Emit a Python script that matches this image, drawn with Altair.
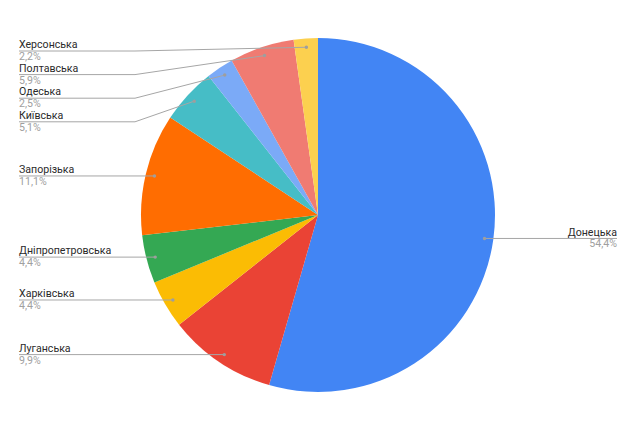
import altair as alt
import numpy as np
import pandas as pd

# Share of each oblast (percent), listed clockwise from 12 o'clock
regions = ["Донецька", "Луганська", "Харківська", "Дніпропетровська",
           "Запорізька", "Київська", "Одеська", "Полтавська", "Херсонська"]
shares = [54.4, 9.9, 4.4, 4.4, 11.1, 5.1, 2.5, 5.9, 2.2]
colors = ["#4285F4", "#EA4335", "#FBBC04", "#34A853", "#FF6D01",
          "#46BDC6", "#7BAAF7", "#F07B72", "#FCD04F"]

# Canvas and pie geometry (pixels)
W, H = 630, 426
CX, CY, R = 318, 215, 177
DOT_R = 0.95 * R
LEFT_X, RIGHT_X = 19, 617
BEND_L, BEND_R = 135, 500
LABEL_GAP, LABEL_TOP = 23.6, 51
FONT = "Roboto"
FONT_SIZE = 10.6

vals = np.array(shares, dtype=float)
cum = np.cumsum(vals)
mid = (cum - vals / 2) / vals.sum() * 2 * np.pi
dot_x = CX + DOT_R * np.sin(mid)
dot_y = CY - DOT_R * np.cos(mid)
side = np.where(np.sin(mid) < 0, "left", "right")

# Label rows: start at the anchor's height, pushed down so they never overlap
label_y = np.zeros(len(regions))
for s in ("left", "right"):
    idx = [i for i in np.argsort(dot_y) if side[i] == s]
    prev = -1e9
    for i in idx:
        y = max(dot_y[i], prev + LABEL_GAP, LABEL_TOP)
        label_y[i] = y
        prev = y

pie_df = pd.DataFrame({"region": regions, "share": shares, "idx": range(len(regions))})

line_rows, label_rows = [], []
for i, name in enumerate(regions):
    if side[i] == "left":
        pts = [(LEFT_X, label_y[i]), (BEND_L, label_y[i]), (dot_x[i], dot_y[i])]
        tx = LEFT_X
    else:
        pts = [(RIGHT_X, label_y[i]), (BEND_R, label_y[i]), (dot_x[i], dot_y[i])]
        tx = RIGHT_X
    for k, (px, py) in enumerate(pts):
        line_rows.append({"region": name, "seq": k, "x": px, "y": py})
    label_rows.append({
        "region": name, "side": side[i], "x": tx, "y": label_y[i],
        "pct": f"{shares[i]:.1f}".replace(".", ",") + "%",
    })

line_df = pd.DataFrame(line_rows)
label_df = pd.DataFrame(label_rows)
dot_df = pd.DataFrame({"region": regions, "x": dot_x, "y": dot_y})

xs = alt.Scale(domain=[0, W], range=[0, W], nice=False, zero=False)
ys = alt.Scale(domain=[0, H], range=[0, H], nice=False, zero=False)
X = lambda f: alt.X(f, type="quantitative", scale=xs, axis=None)
Y = lambda f: alt.Y(f, type="quantitative", scale=ys, axis=None)

pie = alt.Chart(pie_df).mark_arc(outerRadius=R).encode(
    theta=alt.Theta("share:Q", stack=True),
    order=alt.Order("idx:Q"),
    color=alt.Color("region:N", scale=alt.Scale(domain=regions, range=colors), legend=None),
    x=alt.value(CX),
    y=alt.value(CY),
)

leaders = alt.Chart(line_df).mark_line(color="#a6a6a6", strokeWidth=1).encode(
    x=X("x"), y=Y("y"), detail="region:N", order="seq:Q"
)

dots = alt.Chart(dot_df).mark_circle(color="#9e9e9e", size=12, opacity=1).encode(
    x=X("x"), y=Y("y")
)

layers = [pie, leaders, dots]
for s, align in (("left", "left"), ("right", "right")):
    base = alt.Chart(label_df).transform_filter(alt.datum.side == s)
    layers.append(base.mark_text(align=align, baseline="alphabetic", dy=-2.8,
                                 font=FONT, fontSize=FONT_SIZE, color="#2a2a2a").encode(
        x=X("x"), y=Y("y"), text="region:N"))
    layers.append(base.mark_text(align=align, baseline="alphabetic", dy=9,
                                 font=FONT, fontSize=FONT_SIZE, color="#a0a0a0").encode(
        x=X("x"), y=Y("y"), text="pct:N"))

chart = alt.layer(*layers).properties(
    width=W, height=H, autosize=alt.AutoSizeParams(type="none"), padding=0,
    background="white",
).configure_view(stroke=None)

chart.save("out.html", embed_options={"renderer": "svg", "actions": False})
